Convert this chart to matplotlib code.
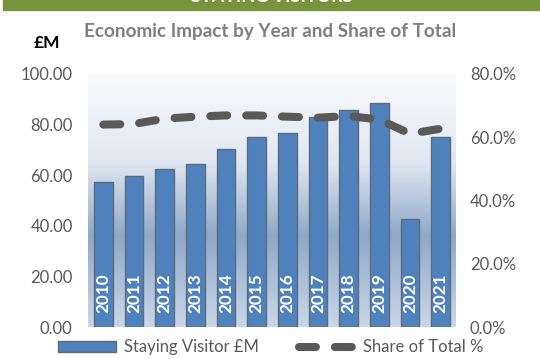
import numpy as np
import matplotlib.pyplot as plt
from matplotlib.colors import LinearSegmentedColormap
from matplotlib.patches import Rectangle
from matplotlib.lines import Line2D

plt.rcParams["font.family"] = ["Lato", "DejaVu Sans"]

years = ["2010", "2011", "2012", "2013", "2014", "2015",
         "2016", "2017", "2018", "2019", "2020", "2021"]
spend_m = [57.4, 59.6, 62.5, 64.5, 70.2, 75.2,
           76.6, 83.0, 85.8, 88.7, 42.6, 75.2]
share_pct = [0.640, 0.642, 0.659, 0.665, 0.669, 0.669,
             0.665, 0.662, 0.667, 0.656, 0.611, 0.627]
left_ticks = [0, 20, 40, 60, 80, 100]
right_ticks = [0.0, 0.2, 0.4, 0.6, 0.8]

W, H = 540, 359
fig = plt.figure(figsize=(W / 100, H / 100), dpi=100)


def px(x0, y0, x1, y1):
    """pixel box (top-left origin) -> figure fraction rect"""
    return [x0 / W, 1 - y1 / H, (x1 - x0) / W, (y1 - y0) / H]


grey = "#595959"

# green header strip, its heading runs off the top edge
fig.patches.append(Rectangle((3 / W, 1 - 10 / H), 1, 10 / H,
                             transform=fig.transFigure, color="#77933C"))
fig.text(272 / W, 1 - 2.5 / H, "STAYING VISITORS", color="white",
         fontsize=13, fontweight="bold", ha="center", va="baseline")

fig.text(270 / W, 1 - 32 / H, "Economic Impact by Year and Share of Total",
         color="#7F7F7F", fontsize=13.6, fontweight="bold",
         ha="center", va="center")
fig.text(47 / W, 1 - 43 / H, "£M", color="black", fontsize=12.5,
         fontweight="bold", ha="center", va="center")

ax = fig.add_axes(px(88, 74, 456, 327))
x = np.arange(len(years))

# plot-area gradient
grad = LinearSegmentedColormap.from_list(
    "bg", [(0.0, "#F9FAFC"), (0.35, "#E0E7F1"), (0.64, "#8FA9C9"),
           (1.0, "#CAD7E9")])
ax.imshow(np.linspace(0, 1, 256).reshape(-1, 1), cmap=grad, aspect="auto",
          extent=[0, 1, 0, 1], transform=ax.transAxes, zorder=0)

ax.bar(x, spend_m, width=0.6, color="#4F81BD", edgecolor="#5F6B78",
       linewidth=1.0, zorder=2)
for xi, yr in zip(x, years):
    ax.text(xi, 5.5, yr, rotation=90, color="white", fontsize=12.3,
            fontweight="bold", ha="center", va="bottom", zorder=3)

ax.set_xlim(-0.5, len(years) - 0.5)
ax.set_ylim(0, 100)
ax.set_yticks(left_ticks)
ax.set_yticklabels([f"{v:.2f}" for v in left_ticks])
ax.set_xticks([])
ax.tick_params(axis="y", length=0, pad=11, labelsize=12, labelcolor=grey)
for s in ax.spines.values():
    s.set_visible(False)

ax2 = ax.twinx()
ax2.plot(x, share_pct, color=grey, linewidth=5.8,
         dashes=(2.1, 2.35), dash_capstyle="round", zorder=4)
ax2.set_ylim(0, 0.8)
ax2.set_yticks(right_ticks)
ax2.set_yticklabels([f"{v * 100:.1f}%" for v in right_ticks])
ax2.tick_params(axis="y", length=0, pad=10, labelsize=12, labelcolor=grey)
for s in ax2.spines.values():
    s.set_visible(False)

# legend drawn along the bottom
fig.patches.append(Rectangle((58 / W, 1 - 352 / H), 58 / W, 11 / H,
                             transform=fig.transFigure, facecolor="#4F81BD",
                             edgecolor="#5F6B78", linewidth=1.0))
fig.text(124 / W, 1 - 347 / H, "Staying Visitor £M", color=grey,
         fontsize=12, ha="left", va="center")
fig.lines.append(Line2D([299 / W, 352 / W], [1 - 347 / H, 1 - 347 / H],
                        transform=fig.transFigure, color=grey, linewidth=5.8,
                        dashes=(2.1, 2.35), dash_capstyle="round"))
fig.text(363 / W, 1 - 347 / H, "Share of Total %", color=grey,
         fontsize=12, ha="left", va="center")

fig.savefig("out.png", dpi=100)
